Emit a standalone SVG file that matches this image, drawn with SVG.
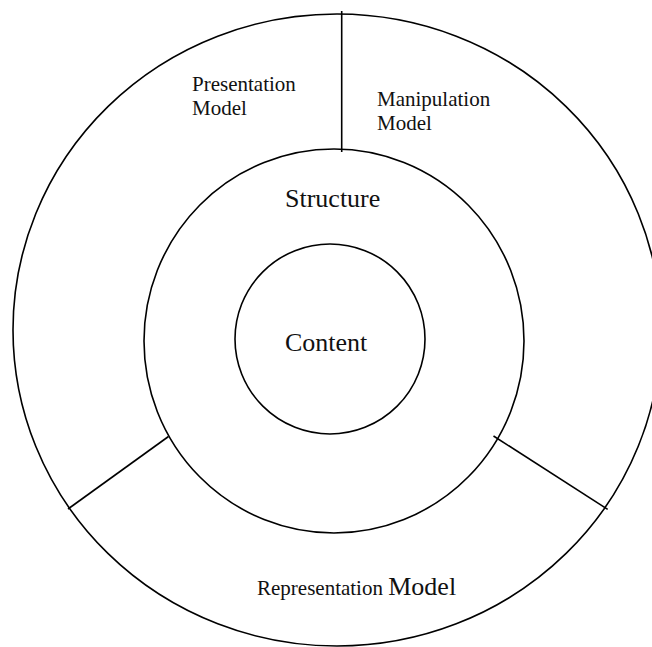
<svg xmlns="http://www.w3.org/2000/svg" width="652" height="647" viewBox="0 0 652 647">
<style>
.s{fill:none;stroke:#000;stroke-width:1.6}
.t{font-family:"Liberation Serif","Times New Roman",serif;fill:#111}
.sm{font-size:21px}
.lg{font-size:26px}
</style>
<rect width="652" height="647" fill="#fff"/>
<g id="outer"><ellipse class="s" cx="337" cy="330" rx="324" ry="316"/></g>
<g id="structure"><ellipse class="s" cx="334" cy="341" rx="190" ry="192"/>
<text class="t lg" x="285" y="207">Structure</text></g>
<g id="content"><circle class="s" cx="330" cy="339" r="95"/>
<text class="t lg" x="285" y="351">Content</text></g>
<g id="connectors">
<line class="s" x1="341.7" y1="11" x2="341.7" y2="152"/>
<line class="s" x1="68" y1="509" x2="168.5" y2="436.5"/>
<line class="s" x1="493.5" y1="436" x2="607.7" y2="509.3"/>
</g>
<g id="presentation"><text class="t sm" x="192" y="91">Presentation</text><text class="t sm" x="192" y="115">Model</text></g>
<g id="manipulation"><text class="t sm" x="377" y="106">Manipulation</text><text class="t sm" x="377" y="130">Model</text></g>
<g id="representation"><text class="t" x="257" y="595"><tspan class="sm">Representation </tspan><tspan class="lg">Model</tspan></text></g>
</svg>
